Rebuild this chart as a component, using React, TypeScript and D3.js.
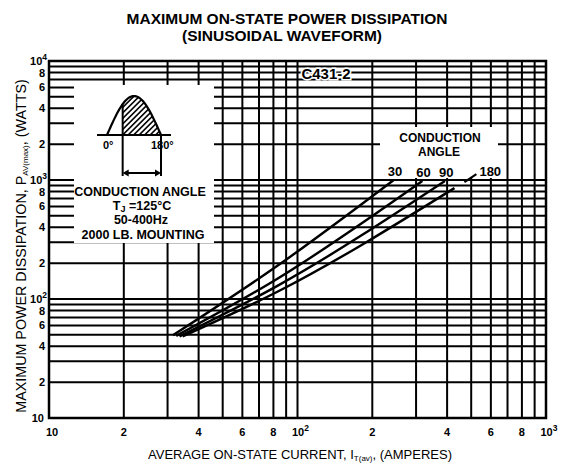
import React from 'react';
import * as d3 from 'd3';

// ---- data ----
const angleLabels = ['30', '60', '90', '180'];
const current30 = [31.5, 83, 244];
const power30 = [49.5, 190, 1000];
const current60 = [32.5, 83, 318];
const power60 = [49, 148, 981];
const current90 = [33.5, 83, 392];
const power90 = [48.5, 129, 981];
const current180 = [34.5, 83, 428];
const power180 = [48.5, 115, 855];

const xTickValues = [10, 20, 40, 60, 80, 100, 200, 400, 600, 800, 1000];
const xTickLabels = ['10', '2', '4', '6', '8', '10', '2', '4', '6', '8', '10'];
const xTickSups = ['', '', '', '', '', '2', '', '', '', '', '3'];

const yTickValues = [10, 20, 40, 60, 80, 100, 200, 400, 600, 800, 1000, 2000, 4000, 6000, 8000, 10000];
const yTickLabels = ['10', '2', '4', '6', '8', '10', '2', '4', '6', '8', '10', '2', '4', '6', '8', '10'];
const yTickSups = ['', '', '', '', '', '2', '', '', '', '', '3', '', '', '', '', '4'];

const W = 578;
const H = 464;
const FONT = '"Liberation Sans", Arial, Helvetica, sans-serif';

export default function App() {
  const x = d3.scaleLog().domain([10, 1000]).range([49, 546]);
  const y = d3.scaleLog().domain([10, 10000]).range([418, 61]);

  const xGrid: number[] = [];
  for (const d of [10, 100]) for (let m = 1; m <= 9; m++) xGrid.push(d * m);
  xGrid.push(1000);
  const yGrid: number[] = [];
  for (const d of [10, 100, 1000]) for (let m = 1; m <= 9; m++) yGrid.push(d * m);
  yGrid.push(10000);

  const series = [
    { label: angleLabels[0], c: current30, p: power30 },
    { label: angleLabels[1], c: current60, p: power60 },
    { label: angleLabels[2], c: current90, p: power90 },
    { label: angleLabels[3], c: current180, p: power180 },
  ];

  const line = d3
    .line<[number, number]>()
    .x((d) => x(d[0]))
    .y((d) => y(d[1]))
    .curve(d3.curveMonotoneX);

  // inset waveform geometry
  const wx0 = 107, wx1 = 161, wb = 135, wa = 39;
  const sinePts: [number, number][] = d3.range(0, 1.0001, 0.02).map((t) => [wx0 + t * (wx1 - wx0), wb - wa * Math.sin(Math.PI * t)]);
  const hatchStart = 0.29;
  const hatchPts: [number, number][] = d3.range(hatchStart, 1.0001, 0.02).map((t) => [wx0 + t * (wx1 - wx0), wb - wa * Math.sin(Math.PI * t)]);
  const hx = wx0 + hatchStart * (wx1 - wx0);
  const hy = wb - wa * Math.sin(Math.PI * hatchStart);
  const sinePath = d3.line()(sinePts) || '';
  const hatchPath = (d3.line()([[hx, wb], ...hatchPts, [wx1, wb]]) || '') + 'Z';
  const hatchLines = d3.range(-60, 80, 5.5);

  return (
    <svg width={W} height={H} style={{ position: 'absolute', left: 0, top: 0, background: '#fff' }} fontFamily={FONT}>
      <rect x={0} y={0} width={W} height={H} fill="#fff" />
      {/* title */}
      <text x={287} y={24} textAnchor="middle" fontSize={15.5} fontWeight="bold">MAXIMUM ON-STATE POWER DISSIPATION</text>
      <text x={282} y={41} textAnchor="middle" fontSize={15.5} fontWeight="bold">(SINUSOIDAL WAVEFORM)</text>

      {/* grid */}
      <g stroke="#000" strokeWidth={2}>
        {xGrid.map((v) => (
          <line key={'gx' + v} x1={x(v)} x2={x(v)} y1={y(10)} y2={y(10000)} />
        ))}
        {yGrid.map((v) => (
          <line key={'gy' + v} x1={x(10)} x2={x(1000)} y1={y(v)} y2={y(v)} />
        ))}
      </g>
      <rect x={x(10)} y={y(10000)} width={x(1000) - x(10)} height={y(10) - y(10000)} fill="none" stroke="#000" strokeWidth={2.5} />

      {/* white panels */}
      <rect x={74} y={85} width={140} height={158} fill="#fff" />
      <rect x={380} y={127} width={118} height={51} fill="#fff" />

      {/* curves */}
      <g fill="none" stroke="#000" strokeWidth={2.4}>
        {series.map((s) => (
          <path key={'c' + s.label} d={line(s.c.map((c, i) => [c, s.p[i]] as [number, number])) || ''} />
        ))}
      </g>
      {/* curve labels */}
      <g fontSize={13} fontWeight="bold">
        {series.slice(0, 3).map((s) => {
          const n = s.c.length - 1;
          return (
            <text key={'l' + s.label} x={x(s.c[n]) - 6} y={y(s.p[n]) - 4}>{s.label}</text>
          );
        })}
        {(() => {
          const s = series[3];
          const n = s.c.length - 1;
          const ex = x(s.c[n]);
          const ey = y(s.p[n]);
          return (
            <g>
              <line x1={ex + 10} y1={ey - 6} x2={ex + 22} y2={ey - 14} stroke="#000" strokeWidth={2.2} />
              <text x={ex + 25} y={ey - 12}>{s.label}</text>
            </g>
          );
        })()}
      </g>
      <text x={440} y={142} textAnchor="middle" fontSize={12} fontWeight="bold">CONDUCTION</text>
      <text x={439} y={156} textAnchor="middle" fontSize={12} fontWeight="bold">ANGLE</text>

      {/* C431-2 */}
      <text x={326} y={79} textAnchor="middle" fontSize={15} fontWeight="bold" stroke="#fff" strokeWidth={3} paintOrder="stroke" fill="#000">C431-2</text>

      {/* inset waveform */}
      <g stroke="#000" fill="none">
        <clipPath id="hatchClip">
          <path d={hatchPath} />
        </clipPath>
        <g clipPath="url(#hatchClip)" strokeWidth={1.6}>
          {hatchLines.map((o) => (
            <line key={'h' + o} x1={hx + o} y1={wb + 5} x2={hx + o + 50} y2={wb - 45} />
          ))}
        </g>
        <path d={sinePath} strokeWidth={2.2} />
        <line x1={97} x2={171} y1={wb} y2={wb} strokeWidth={2.2} />
        <line x1={hx} x2={hx} y1={hy} y2={176} strokeWidth={2} />
        <line x1={wx1} x2={wx1} y1={wb} y2={176} strokeWidth={2} />
        <line x1={hx + 4} x2={wx1 - 4} y1={173} y2={173} strokeWidth={2} />
      </g>
      <path d={`M${hx},173 l6,-3.5 l0,7 Z`} fill="#000" />
      <path d={`M${wx1},173 l-6,-3.5 l0,7 Z`} fill="#000" />
      <g fontSize={11} fontWeight="bold">
        <text x={103} y={149}>0°</text>
        <text x={151} y={149}>180°</text>
      </g>
      <g fontSize={12.5} fontWeight="bold" textAnchor="middle">
        <text x={140} y={196}>CONDUCTION ANGLE</text>
        <text x={142} y={210}>
          T<tspan fontSize={9} dy={2}>J</tspan>
          <tspan dy={-2}> =125°C</tspan>
        </text>
        <text x={141} y={224}>50-400Hz</text>
        <text x={143} y={239}>2000 LB. MOUNTING</text>
      </g>

      {/* y ticks */}
      <g fontSize={11} fontWeight="bold">
        {yTickValues.map((v, i) =>
          yTickSups[i] || v === 10 ? (
            <text key={'yt' + v} x={yTickSups[i] ? 47 : 44} y={y(v) + 4} textAnchor="end">
              {yTickLabels[i]}
              {yTickSups[i] ? (
                <tspan fontSize={8.5} dy={-5}>{yTickSups[i]}</tspan>
              ) : null}
            </text>
          ) : (
            <text key={'yt' + v} x={42} y={y(v) + 4} textAnchor="middle">{yTickLabels[i]}</text>
          )
        )}
      </g>
      {/* x ticks */}
      <g fontSize={11} fontWeight="bold">
        {xTickValues.map((v, i) => (
          <text key={'xt' + v} x={x(v) + (xTickSups[i] ? 3 : v === 10 ? 3 : 0)} y={436} textAnchor="middle">
            {xTickLabels[i]}
            {xTickSups[i] ? (
              <tspan fontSize={8.5} dy={-5}>{xTickSups[i]}</tspan>
            ) : null}
          </text>
        ))}
      </g>

      {/* axis titles */}
      <text x={300} y={459} textAnchor="middle" fontSize={13}>
        AVERAGE ON-STATE CURRENT, I<tspan fontSize={8} dy={2}>T(av)</tspan>
        <tspan dy={-2}>, (AMPERES)</tspan>
      </text>
      <text transform="translate(26,246) rotate(-90)" textAnchor="middle" fontSize={14.3}>
        MAXIMUM POWER DISSIPATION, P<tspan fontSize={8} dy={2}>AV(max)</tspan>
        <tspan dy={-2}>, (WATTS)</tspan>
      </text>
    </svg>
  );
}
